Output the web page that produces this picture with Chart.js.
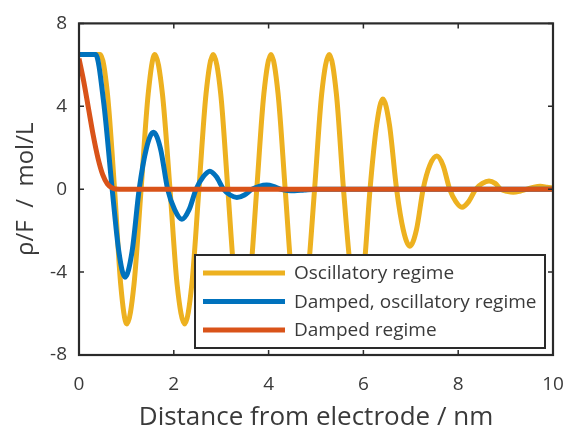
<!DOCTYPE html>
<html>
<head>
<meta charset="utf-8">
<script src="https://cdn.jsdelivr.net/npm/chart.js@4"></script>
<style>
  body { margin: 0; background: #fff; }
  #wrap { width: 564px; height: 432px; }
</style>
</head>
<body>
<div id="wrap"><canvas id="rhoChart"></canvas></div>
<script>
const labels = ['Oscillatory regime', 'Damped, oscillatory regime', 'Damped regime'];

const xTicks = [0, 2, 4, 6, 8, 10];
const yTicks = [-8, -4, 0, 4, 8];

// oscillatory regime
const oscX = [0, 0.2, 0.45, 0.6, 0.75, 0.88, 1.01, 1.16, 1.31, 1.46, 1.6, 1.76, 1.92, 2.07, 2.23, 2.38, 2.53, 2.68, 2.83, 2.99, 3.14, 3.29, 3.44, 3.6, 3.75, 3.9, 4.05, 4.2, 4.35, 4.5, 4.65, 4.81, 4.97, 5.12, 5.28, 5.43, 5.58, 5.73, 5.87, 6.01, 6.14, 6.28, 6.41, 6.55, 6.7, 6.84, 6.98, 7.12, 7.26, 7.4, 7.55, 7.68, 7.82, 7.95, 8.08, 8.22, 8.37, 8.51, 8.65, 8.78, 8.9, 9.03, 9.16, 9.3, 9.45, 9.6, 9.73, 9.87, 10];
const oscY = [6.5, 6.5, 6.5, 4.6, 0, -4.6, -6.5, -4.6, 0, 4.6, 6.5, 4.6, 0, -4.6, -6.5, -4.6, 0, 4.6, 6.5, 4.6, 0, -4.6, -6.5, -4.6, 0, 4.6, 6.5, 4.6, 0, -4.6, -6.5, -4.6, 0, 4.6, 6.5, 4.6, 0, -3.9, -5.5, -3.9, 0, 3.1, 4.35, 3.1, 0, -1.95, -2.75, -1.95, 0, 1.15, 1.6, 1.15, 0, -0.6, -0.87, -0.6, 0, 0.28, 0.4, 0.28, 0, -0.1, -0.15, -0.1, 0, 0.1, 0.14, 0.1, 0.05];

// damped, oscillatory regime
const dampOscX = [0, 0.35, 0.52, 0.7, 0.84, 0.97, 1.12, 1.27, 1.42, 1.57, 1.72, 1.87, 2.02, 2.17, 2.32, 2.47, 2.62, 2.76, 2.9, 3.05, 3.19, 3.33, 3.49, 3.65, 3.8, 3.96, 4.1, 4.25, 4.4, 4.55, 4.75, 5.0, 10];
const dampOscY = [6.5, 6.5, 4.2, 0, -3.0, -4.25, -3.0, 0, 1.95, 2.75, 1.95, 0, -1.0, -1.45, -1.0, 0, 0.6, 0.87, 0.6, 0, -0.28, -0.4, -0.28, 0, 0.14, 0.2, 0.14, 0, -0.06, -0.08, -0.04, 0, 0];

// damped regime
const dampX = [0, 0.1, 0.2, 0.3, 0.4, 0.5, 0.6, 0.7, 0.85, 10];
const dampY = [6.3, 5.2, 3.9, 2.6, 1.5, 0.7, 0.25, 0.06, 0, 0];

const colors = ['#EDB120', '#0072BD', '#D95319'];

const toPoints = (xs, ys) => xs.map((x, i) => ({ x: x, y: ys[i] }));

const fontFam = '"Open Sans", "Liberation Sans", sans-serif';
const textColor = '#3a3a3a';
const frameColor = '#2a2a2a';

// frame with inward ticks + boxed legend inside the plot
const framePlugin = {
    id: 'frame_and_legend',
    afterDraw: (chart) => {
        const ctx = chart.ctx;
        const { top, left, right, bottom } = chart.chartArea;
        const xs = chart.scales.x;
        const ys = chart.scales.y;
        ctx.save();
        ctx.strokeStyle = frameColor;
        ctx.lineWidth = 1.5;
        ctx.beginPath();
        xTicks.forEach(v => {
            const px = xs.getPixelForValue(v);
            ctx.moveTo(px, bottom); ctx.lineTo(px, bottom - 5);
            ctx.moveTo(px, top); ctx.lineTo(px, top + 5);
        });
        yTicks.forEach(v => {
            const py = ys.getPixelForValue(v);
            ctx.moveTo(left, py); ctx.lineTo(left + 5, py);
            ctx.moveTo(right, py); ctx.lineTo(right - 5, py);
        });
        ctx.stroke();
        ctx.lineWidth = 2.2;
        ctx.strokeRect(left, top, right - left, bottom - top);

        // legend
        const w = 350, h = 93;
        const lx = right - 8 - w;
        const ly = bottom - 7 - h;
        ctx.fillStyle = '#fff';
        ctx.fillRect(lx, ly, w, h);
        ctx.lineWidth = 2;
        ctx.strokeStyle = frameColor;
        ctx.strokeRect(lx, ly, w, h);
        ctx.font = '19px ' + fontFam;
        ctx.textBaseline = 'middle';
        ctx.textAlign = 'left';
        labels.forEach((lab, i) => {
            const ry = ly + 18 + i * 28.5;
            ctx.strokeStyle = colors[i];
            ctx.lineWidth = 5;
            ctx.beginPath();
            ctx.moveTo(lx + 8, ry);
            ctx.lineTo(lx + 90, ry);
            ctx.stroke();
            ctx.fillStyle = textColor;
            ctx.fillText(lab, lx + 99, ry + 1);
        });
        ctx.restore();
    }
};

const data = {
    datasets: [{
        label: labels[0],
        data: toPoints(oscX, oscY),
        borderColor: colors[0],
        order: 3
    }, {
        label: labels[1],
        data: toPoints(dampOscX, dampOscY),
        borderColor: colors[1],
        order: 2
    }, {
        label: labels[2],
        data: toPoints(dampX, dampY),
        borderColor: colors[2],
        order: 1
    }]
};

const config = {
    type: 'line',
    data: data,
    options: {
        responsive: true,
        maintainAspectRatio: false,
        animation: false,
        layout: {
            padding: { top: 23, right: 11, left: 0, bottom: 0 }
        },
        elements: {
            point: { radius: 0 },
            line: { borderWidth: 5, cubicInterpolationMode: 'monotone', fill: false }
        },
        plugins: {
            legend: { display: false },
            tooltip: { enabled: false }
        },
        scales: {
            x: {
                type: 'linear',
                min: 0,
                max: 10,
                afterFit: (scale) => {
                    scale.height = 77;
                    scale.paddingLeft = 0;
                    scale.paddingRight = 0;
                },
                afterBuildTicks: (scale) => { scale.ticks = xTicks.map(v => ({ value: v })); },
                grid: { display: false, drawTicks: false },
                border: { display: false },
                ticks: {
                    padding: 18,
                    color: textColor,
                    font: { size: 19, family: fontFam },
                    maxRotation: 0
                },
                title: {
                    display: true,
                    text: 'Distance from electrode / nm',
                    color: textColor,
                    font: { size: 26, family: fontFam },
                    padding: { top: 0, bottom: -1 }
                }
            },
            y: {
                min: -8,
                max: 8,
                afterFit: (scale) => { scale.width = 79; },
                afterBuildTicks: (scale) => { scale.ticks = yTicks.map(v => ({ value: v })); },
                grid: { display: false, drawTicks: false },
                border: { display: false },
                ticks: {
                    padding: 12,
                    color: textColor,
                    font: { size: 19, family: fontFam }
                },
                title: {
                    display: true,
                    text: 'ρ/F  /  mol/L',
                    color: textColor,
                    font: { size: 24, family: fontFam },
                    padding: { top: 12, bottom: 0 }
                }
            }
        }
    },
    plugins: [framePlugin]
};

const rhoChart = new Chart(document.getElementById('rhoChart').getContext('2d'), config);
</script>
</body>
</html>
